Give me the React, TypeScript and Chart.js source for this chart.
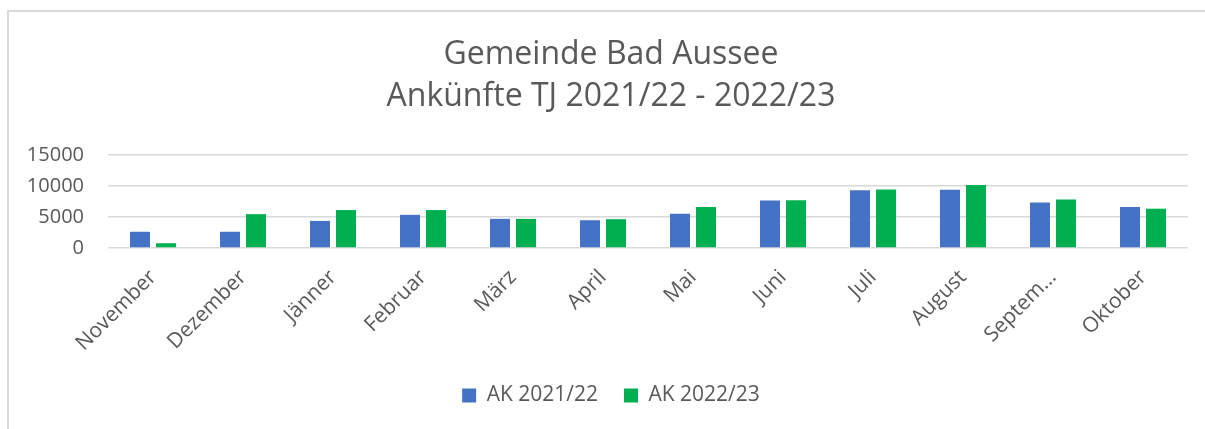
import React, { useEffect, useRef } from "react";
import { Chart, registerables } from "chart.js";

Chart.register(...registerables);

const titleLines = ["Gemeinde Bad Aussee", "Ankünfte TJ 2021/22 - 2022/23"];
const months = ["November", "Dezember", "Jänner", "Februar", "März", "April", "Mai", "Juni", "Juli", "August", "September", "Oktober"];
const seriesNames = ["AK 2021/22", "AK 2022/23"];
const ak2122 = [2620, 2620, 4370, 5350, 4700, 4480, 5520, 7650, 9300, 9400, 7320, 6610];
const ak2223 = [770, 5460, 6120, 6120, 4700, 4650, 6610, 7700, 9450, 10160, 7810, 6340];
const yTicks = [0, 5000, 10000, 15000];

const FONT = "'Open Sans', 'Noto Sans', sans-serif";
const TEXT = "#595959";
const GRID = "#d9d9d9";

export default function App() {
  const ref = useRef<HTMLCanvasElement | null>(null);

  useEffect(() => {
    if (!ref.current) return;
    const chart = new Chart(ref.current, {
      type: "bar",
      data: {
        labels: months,
        datasets: [
          { label: seriesNames[0], data: ak2122, backgroundColor: "#4472C4", borderWidth: 0, categoryPercentage: 0.578, barPercentage: 0.77 },
          { label: seriesNames[1], data: ak2223, backgroundColor: "#00B050", borderWidth: 0, categoryPercentage: 0.578, barPercentage: 0.77 },
        ],
      },
      options: {
        responsive: false,
        animation: false,
        layout: { padding: { left: 34, right: 17, top: 0, bottom: 13 } },
        plugins: {
          title: {
            display: true,
            text: titleLines,
            color: TEXT,
            font: { family: FONT, size: 32, weight: "normal", lineHeight: 1.3125 },
            padding: { top: 34, bottom: 37 },
          },
          legend: {
            position: "bottom",
            labels: {
              color: TEXT,
              font: { family: FONT, size: 21 },
              boxWidth: 14,
              boxHeight: 14,
              padding: 26,
            },
          },
          tooltip: { enabled: false },
        },
        scales: {
          x: {
            grid: { display: false, drawTicks: false },
            border: { display: false },
            ticks: {
              color: TEXT,
              font: { family: FONT, size: 21 },
              minRotation: 45,
              maxRotation: 45,
              autoSkip: false,
              padding: 17,
              callback: function (this: any, value: any) {
                const s = months[value as number];
                return s.length > 8 ? s.slice(0, 6) + "..." : s;
              },
            },
            afterFit: (scale: any) => {
              scale.height = 111;
            },
          },
          y: {
            min: 0,
            max: 15000,
            afterBuildTicks: (scale: any) => {
              scale.ticks = yTicks.map((v) => ({ value: v }));
            },
            grid: { color: GRID, lineWidth: 1.5, drawTicks: false },
            border: { display: false },
            ticks: {
              color: TEXT,
              font: { family: FONT, size: 20 },
              padding: 24,
              callback: (value: any) => String(value),
            },
            afterFit: (scale: any) => {
              scale.width = 74;
              scale._computeLabelArea = () => undefined;
            },
          },
        },
      },
    });
    return () => chart.destroy();
  }, []);

  return (
    <div style={{ position: "fixed", left: 0, top: 0, width: 1205, height: 429, overflow: "hidden", background: "#fff" }}>
      <div
        style={{
          position: "absolute",
          left: 7,
          top: 10,
          width: 1400,
          height: 600,
          border: "2px solid #d9d9d9",
          boxSizing: "border-box",
        }}
      />
      <canvas ref={ref} width={1205} height={429} style={{ position: "absolute", left: 0, top: 0, width: 1205, height: 429 }} />
    </div>
  );
}
